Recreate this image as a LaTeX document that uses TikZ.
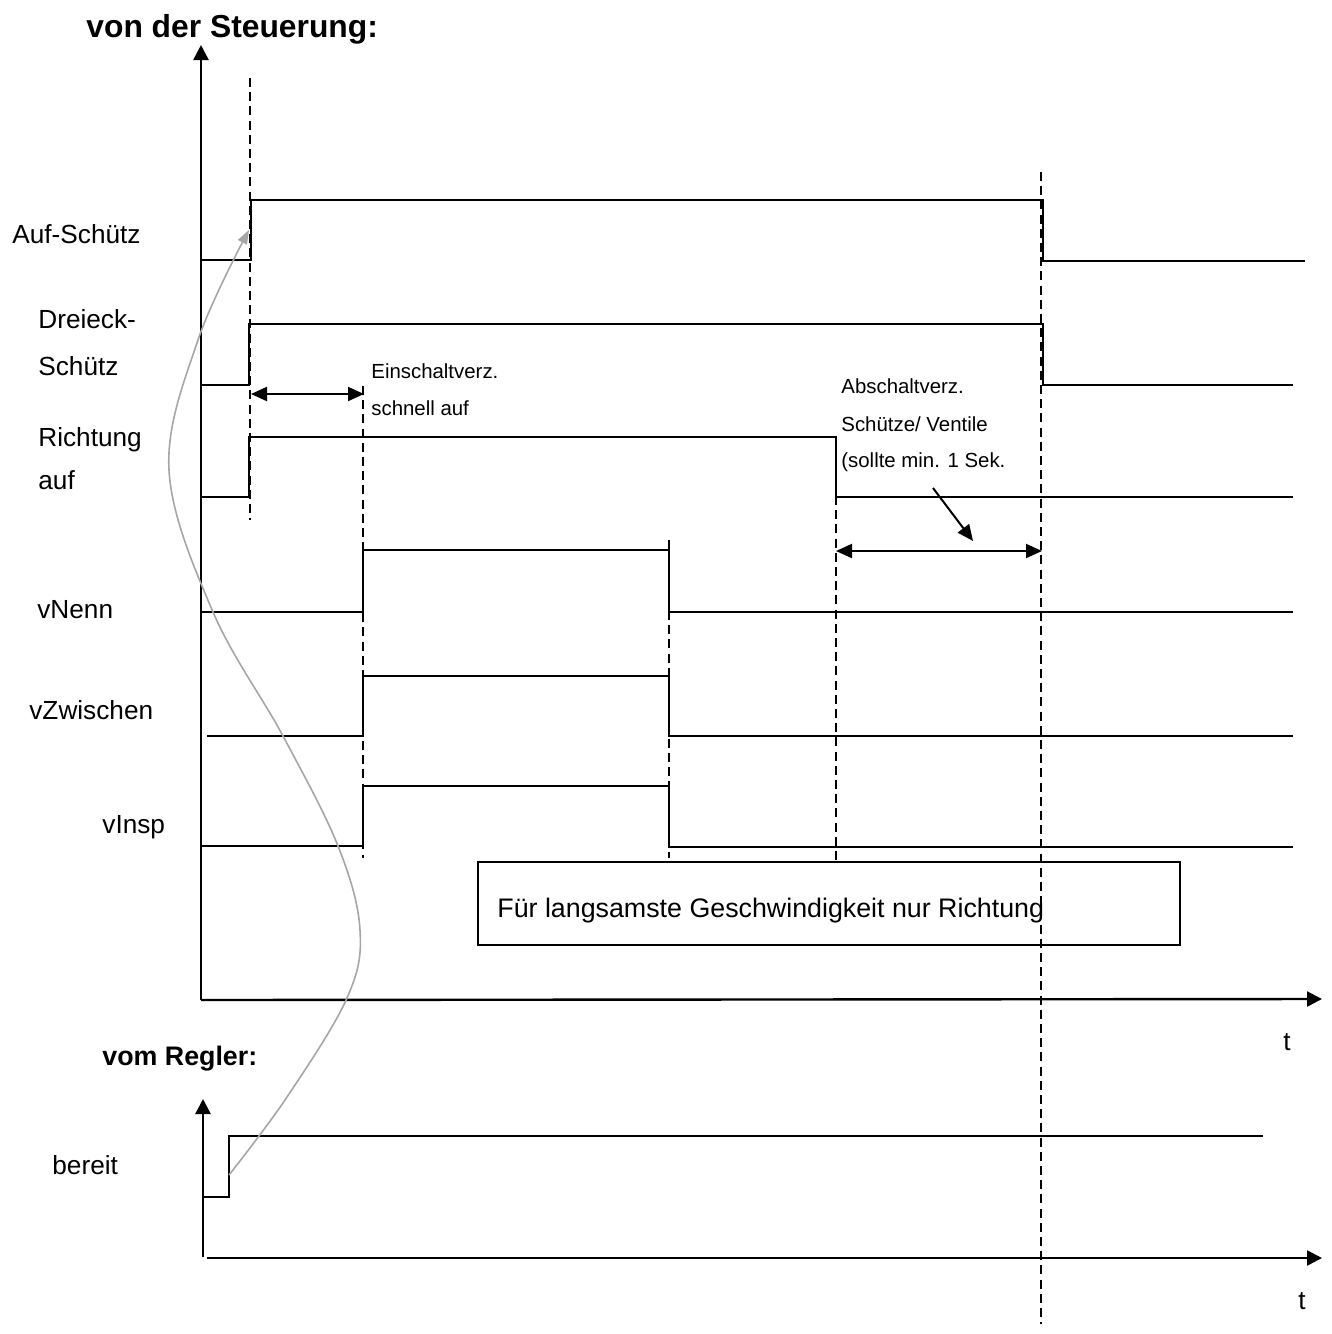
\documentclass[tikz,border=0pt]{standalone}
\usepackage{fontspec}
\setmainfont{Liberation Sans}
\usetikzlibrary{arrows.meta}
\begin{document}
\begin{tikzpicture}[x=0.5pt,y=-0.5pt,
  sig/.style={line width=1.1pt, line join=miter},
  axisline/.style={line width=1.2pt,-{Triangle[length=7.5pt,width=7.5pt]}},
  dashline/.style={line width=0.9pt, dash pattern=on 4.5pt off 2.6pt},
  dimarrow/.style={line width=1pt,{Triangle[length=8pt,width=7pt]}-{Triangle[length=8pt,width=7pt]}},
  ptr/.style={line width=1pt,-{Triangle[length=8pt,width=7pt]}},
  lbl/.style={anchor=base west,inner sep=0pt,font=\fontsize{13.1pt}{15pt}\selectfont},
  notetext/.style={anchor=base west,inner sep=0pt,font=\fontsize{13.4pt}{16pt}\selectfont},
  small/.style={anchor=base west,inner sep=0pt,font=\fontsize{10.2pt}{12pt}\selectfont},
  heading/.style={anchor=base west,inner sep=0pt,font=\bfseries\fontsize{15.9pt}{18pt}\selectfont},
  subheading/.style={anchor=base west,inner sep=0pt,font=\bfseries\fontsize{13.4pt}{16pt}\selectfont},
  curve/.style={line width=0.8pt, draw={rgb,255:red,166;green,166;blue,166},
    -{Triangle[length=7pt,width=5pt]}},
]
\useasboundingbox (0,0) rectangle (1332,1334);

% headings
\node[heading] (title) at (86,37) {von der Steuerung:};
\node[subheading] (regler) at (102,1065) {vom Regler:};

% axes (upper)
\coordinate (o1) at (201,1000);
\coordinate (y1) at (201,45);
\coordinate (x1) at (1322,999);
\draw[axisline] (o1) -- (y1);
\draw[axisline] (o1) -- (x1);
\node[lbl] (t1) at (1283,1050) {t};

% axes (lower)
\coordinate (o2b) at (203,1257);
\coordinate (y2) at (203,1099);
\coordinate (o2) at (207,1258);
\coordinate (x2) at (1322,1258);
\draw[axisline] (o2b) -- (y2);
\draw[axisline] (o2) -- (x2);
\node[lbl] (t2) at (1298,1309) {t};

% dashed time markers
\draw[dashline] (250,78) -- (250,520);
\draw[dashline] (363,386) -- (363,858);
\draw[dashline] (669,540) -- (669,858);
\draw[dashline] (836,496) -- (836,862);
\draw[dashline] (1041,172) -- (1041,1324);

% signal labels
\node[lbl] (lAuf) at (12,243) {Auf-Schütz};
\node[lbl] (lDr1) at (38,328) {Dreieck-};
\node[lbl] (lDr2) at (38,375) {Schütz};
\node[lbl] (lRi1) at (38,446) {Richtung};
\node[lbl] (lRi2) at (38,489) {auf};
\node[lbl] (lNenn) at (37,618) {vNenn};
\node[lbl] (lZw) at (29,719) {vZwischen};
\node[lbl] (lInsp) at (102,833) {vInsp};
\node[lbl] (lBer) at (52,1174) {bereit};

% signals
\draw[sig] (201,260) -- (251,260) -- (251,200) -- (1043,200) -- (1043,261) -- (1305,261);
\draw[sig] (201,385) -- (249,385) -- (249,324) -- (1043,324) -- (1043,385) -- (1293,385);
\draw[sig] (201,497) -- (249,497) -- (249,437) -- (836,437) -- (836,497) -- (1293,497);
\draw[sig] (201,612) -- (363,612) -- (363,550) -- (669,550) -- (669,612) -- (1293,612);
\draw[sig] (207,736) -- (363,736) -- (363,676) -- (669,676) -- (669,736) -- (1293,736);
\draw[sig] (201,846) -- (363,846) -- (363,786) -- (669,786) -- (669,847) -- (1293,847);
\draw[sig] (203,1197) -- (229,1197) -- (229,1136) -- (1263,1136);

% delay annotations
\coordinate (d1a) at (251,394);
\coordinate (d1b) at (364,394);
\draw[dimarrow] (d1a) -- (d1b);
\node[small] (ein1) at (371,378) {Einschaltverz.};
\node[small] (ein2) at (371,415) {schnell auf};

\coordinate (d2a) at (836,551);
\coordinate (d2b) at (1042,551);
\draw[dimarrow] (d2a) -- (d2b);
\node[small] (ab1) at (841,393) {Abschaltverz.};
\node[small] (ab2) at (841,431) {Schütze/ Ventile};
\node[small] (ab3) at (841,467) {(sollte min. 1 Sek.};
\coordinate (p1) at (933,488);
\coordinate (p2) at (973,541);
\draw[ptr] (p1) -- (p2);

% note box
\draw[line width=1pt] (478,862) rectangle (1180,945);
\node[notetext] (note) at (497,917) {Für langsamste Geschwindigkeit nur Richtung};

% gray dependency curve
\coordinate (bereitRise) at (229,1175);
\coordinate (aufRise) at (249,230);
\draw[curve] plot[smooth, tension=0.6] coordinates {(bereitRise) (287,1097) (347,998) (360,930) (338,846) (283,736) (213,612) (169,470) (198,340) (aufRise)};
\end{tikzpicture}
\end{document}
